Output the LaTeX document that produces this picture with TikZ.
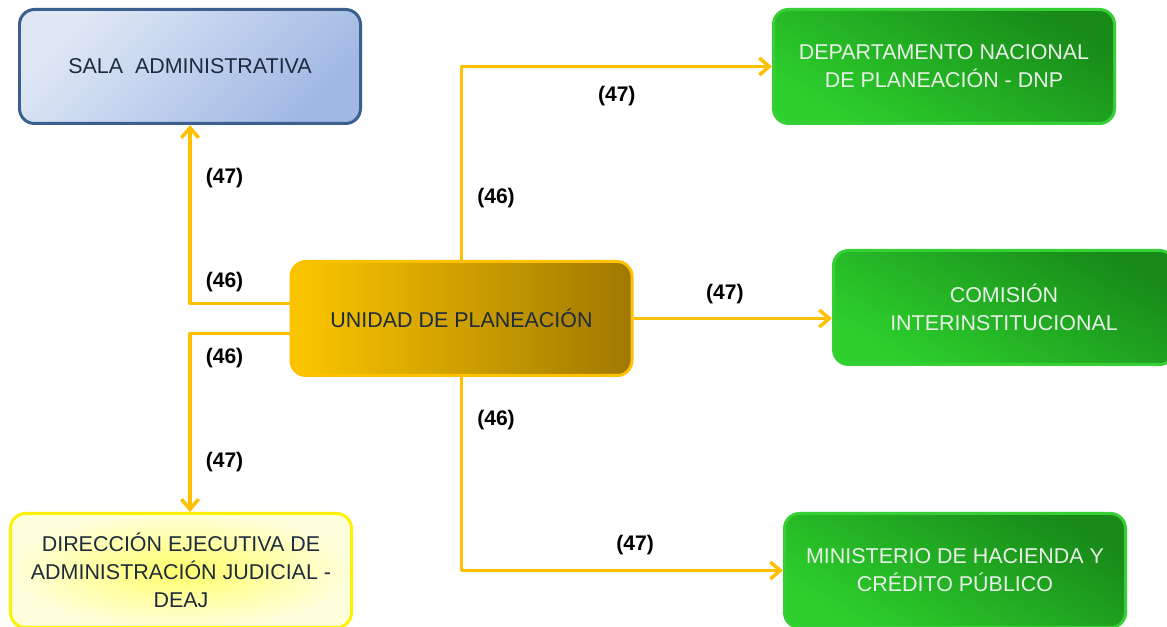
\documentclass[tikz,border=0pt]{standalone}
\usepackage{fontspec}
\setmainfont{Liberation Sans}
\usepackage{xcolor}
\usepackage{tikz}
\usetikzlibrary{arrows.meta,positioning}
\definecolor{linegold}{HTML}{FFC000}
\definecolor{inknavy}{HTML}{1E2B3C}
\definecolor{salaedge}{HTML}{3B5F8E}
\definecolor{salalight}{HTML}{E0E8F6}
\definecolor{saladark}{HTML}{A0B8E3}
\definecolor{goldstart}{HTML}{FCC700}
\definecolor{goldend}{HTML}{A07800}
\definecolor{greenedge}{HTML}{36CF36}
\definecolor{greenlight}{HTML}{2DD02D}
\definecolor{greendark}{HTML}{188A18}
\definecolor{greentext}{HTML}{E8F0E8}

\begin{document}
\begin{tikzpicture}[
  font=\fontsize{12.2}{16}\selectfont,
  box/.style={rounded corners=0.3cm, minimum width=6.82cm, minimum height=2.28cm,
              line width=0.06cm, align=center, text=inknavy},
  salabox/.style={box, draw=salaedge, top color=salalight, bottom color=saladark,
                  shading angle=45},
  unibox/.style={box, draw=linegold, left color=goldstart, right color=goldend},
  greenbox/.style={box, draw=greenedge, top color=greendark, bottom color=greenlight,
                   shading angle=-30, text=greentext},
  deajbox/.style={box, draw=yellow, inner color=yellow!58, outer color=yellow!14},
  ar/.style={draw=linegold, line width=2pt, line join=round,
             -{Straight Barb[length=2mm, width=3.4mm]}},
  lab/.style={font=\bfseries\fontsize{12}{14}\selectfont, inner sep=0pt}]
\useasboundingbox (0,0) rectangle (23.34,-12.54);
\clip (0,0) rectangle (23.34,-12.54);
\fill[white] (0,0) rectangle (23.34,-12.54);

\node[salabox] (sala) at (3.80,-1.33) {SALA\ \ ADMINISTRATIVA};
\node[unibox] (unidad) at (9.23,-6.37) {UNIDAD DE PLANEACIÓN};
\node[greenbox] (dnp) at (18.88,-1.33) {DEPARTAMENTO NACIONAL\\DE PLANEACIÓN - DNP};
\node[greenbox] (comision) at (20.08,-6.15) {COMISIÓN\\INTERINSTITUCIONAL};
\node[greenbox] (minhac) at (19.10,-11.41) {MINISTERIO DE HACIENDA Y\\CRÉDITO PÚBLICO};
\node[deajbox] (deaj) at (3.62,-11.41) {DIRECCIÓN EJECUTIVA DE\\ADMINISTRACIÓN JUDICIAL -\\DEAJ};

\coordinate (uup) at ([yshift=3mm]unidad.west);
\coordinate (udown) at ([yshift=-3mm]unidad.west);

% left side
\draw[ar] (uup) -| node[lab, pos=0.5, above right=2mm and 2.8mm]{(46)}
                   node[lab, pos=0.85, right=2.8mm]{(47)} (sala.south);
\draw[ar] (udown) -| node[lab, pos=0.5, below right=2.6mm and 2.8mm]{(46)}
                     node[lab, pos=0.86, right=2.8mm]{(47)} (sala.south |- deaj.north);
% right side
\draw[ar] (unidad.north) |- node[lab, pos=0.16, right=2.8mm]{(46)}
                            node[lab, pos=0.75, below=3.6mm]{(47)} (dnp.west);
\draw[ar] (unidad.east) -- node[lab, pos=0.46, above=2.6mm]{(47)} (unidad.east -| comision.west);
\draw[ar] (unidad.south) |- node[lab, pos=0.11, right=2.8mm]{(46)}
                            node[lab, pos=0.77, above=2.8mm]{(47)} (minhac.west);
\end{tikzpicture}
\end{document}
